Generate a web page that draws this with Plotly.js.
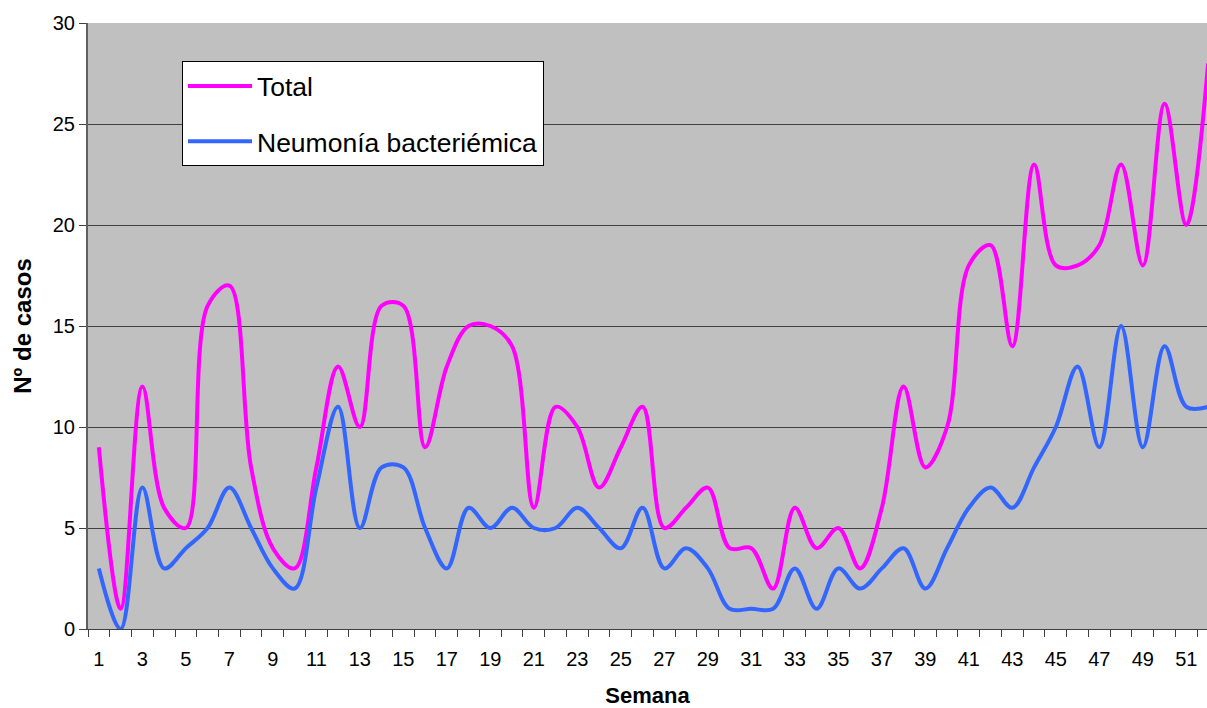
<!DOCTYPE html>
<html>
<head>
<meta charset="utf-8">
<script src="https://cdn.plot.ly/plotly-3.0.1.min.js"></script>
<style>
html,body{margin:0;padding:0;background:#fff;}
#chart{width:1207px;height:708px;}
</style>
</head>
<body>
<div id="chart"></div>
<script>
const weeks = [1,2,3,4,5,6,7,8,9,10,11,12,13,14,15,16,17,18,19,20,21,22,23,24,25,26,27,28,29,30,31,32,33,34,35,36,37,38,39,40,41,42,43,44,45,46,47,48,49,50,51,52];
const totalCases = [9,1,12,6,5,16,17,8,4,3,8,13,10,16,16,9,13,15,15,14,6,11,10,7,9,11,5,6,7,4,4,2,6,4,5,3,6,12,8,10,18,19,14,23,18,18,19,23,18,26,20,28];
const bacteremicPneumonia = [3,0,7,3,4,5,7,5,3,2,7,11,5,8,8,5,3,6,5,6,5,5,6,5,4,6,3,4,3,1,1,1,3,1,3,2,3,4,2,4,6,7,6,8,10,13,9,15,9,14,11,11];
const seriesNames = ['Total', 'Neumonía bacteriémica'];
const seriesColors = ['#FF00FF', '#3366FF'];

const labelWeeks = weeks.filter(w => w % 2 === 1);
const boundaries = weeks.map(w => w - 0.5).concat([weeks[weeks.length - 1] + 0.5]);

const fontFam = 'Arial, "Liberation Sans", Helvetica, sans-serif';

const traces = [totalCases, bacteremicPneumonia].map((vals, i) => ({
  x: weeks,
  y: vals,
  type: 'scatter',
  mode: 'lines',
  name: seriesNames[i],
  legendgroup: 'g' + i,
  line: {color: seriesColors[i], width: 4, shape: 'spline', smoothing: 1},
  hoverinfo: 'x+y'
}));

const layout = {
  width: 1207,
  height: 708,
  margin: {l: 88, r: 0, t: 23, b: 79, pad: 0},
  paper_bgcolor: '#FFFFFF',
  plot_bgcolor: '#C0C0C0',
  font: {family: fontFam, color: '#000000', size: 20},
  showlegend: true,
  legend: {
    x: 0.084, y: 0.937, xanchor: 'left', yanchor: 'top',
    bgcolor: '#FFFFFF', bordercolor: '#000000', borderwidth: 1,
    font: {family: fontFam, size: 26.5, color: '#000000'},
    itemwidth: 64,
    traceorder: 'grouped', tracegroupgap: 18
  },
  xaxis: {
    range: [0.5, 51.95],
    tickmode: 'array',
    tickvals: labelWeeks,
    ticktext: labelWeeks.map(String),
    ticks: 'outside', ticklen: 12, tickcolor: 'rgba(0,0,0,0)',
    minor: {tickmode: 'array', tickvals: boundaries, ticks: 'outside', ticklen: 7, tickcolor: '#404040', tickwidth: 1, showgrid: false},
    showline: true, linecolor: '#404040', linewidth: 1,
    showgrid: false, zeroline: false,
    tickfont: {family: fontFam, size: 20, color: '#000000'},
    title: {text: 'Semana', font: {family: fontFam, size: 22, color: '#000000', weight: 'bold'}, standoff: 20}
  },
  yaxis: {
    range: [0, 30],
    tickmode: 'linear', tick0: 0, dtick: 5,
    ticks: 'outside', ticklen: 7, tickcolor: '#404040', tickwidth: 1,
    showline: true, linecolor: '#606060', linewidth: 2,
    showgrid: true, gridcolor: '#404040', gridwidth: 1,
    zeroline: false,
    tickfont: {family: fontFam, size: 20, color: '#000000'},
    title: {text: 'Nº de casos', font: {family: fontFam, size: 24, color: '#000000', weight: 'bold'}, standoff: 14}
  }
};

Plotly.newPlot('chart', traces, layout, {displayModeBar: false, responsive: false});
</script>
</body>
</html>
